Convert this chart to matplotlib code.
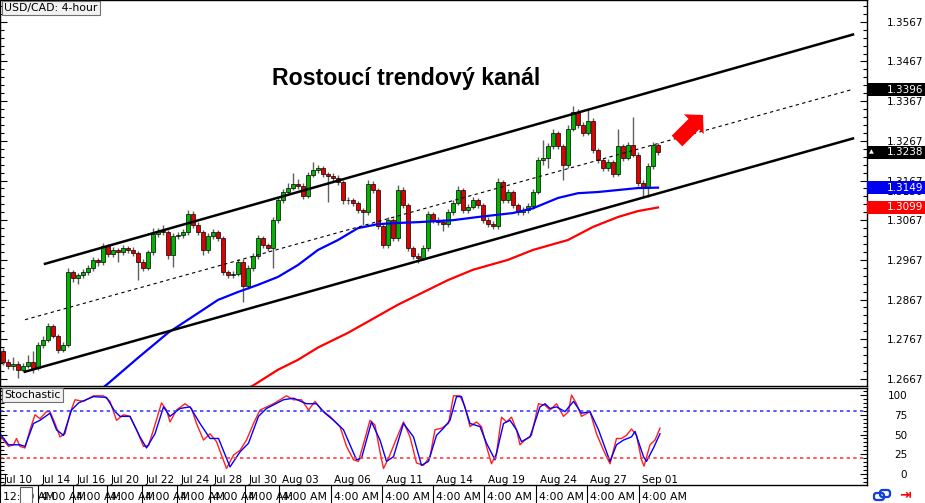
import matplotlib
matplotlib.use("Agg")
import matplotlib.pyplot as plt
import numpy as np
from matplotlib.patches import Rectangle, FancyArrow, FancyBboxPatch
from matplotlib.lines import Line2D
from matplotlib.transforms import blended_transform_factory
from matplotlib.ticker import FixedLocator, MultipleLocator

plt.rcParams['font.family'] = ['DejaVu Sans']

# --- USD/CAD 4h candles ---
opens = [1.2736, 1.2710, 1.2700, 1.2705, 1.2690, 1.2700, 1.2710, 1.2695, 1.2753, 1.2766,
         1.2801, 1.2776, 1.2741, 1.2753, 1.2937, 1.2921, 1.2929, 1.2937, 1.2947, 1.2967,
         1.2962, 1.3002, 1.2982, 1.2992, 1.2987, 1.2997, 1.2992, 1.2984, 1.2962, 1.2947,
         1.2987, 1.3032, 1.3040, 1.3037, 1.2979, 1.3027, 1.3030, 1.3037, 1.3082, 1.3055,
         1.3037, 1.2992, 1.3027, 1.3037, 1.3022, 1.2937, 1.2929, 1.2932, 1.2962, 1.2901,
         1.2947, 1.2977, 1.3022, 1.3004, 1.2997, 1.3067, 1.3117, 1.3138, 1.3148, 1.3158,
         1.3153, 1.3128, 1.3180, 1.3193, 1.3198, 1.3183, 1.3178, 1.3173, 1.3163, 1.3117,
         1.3117, 1.3110, 1.3092, 1.3087, 1.3158, 1.3143, 1.3052, 1.3004, 1.3067, 1.3022,
         1.3143, 1.3105, 1.2997, 1.2977, 1.2972, 1.2997, 1.3082, 1.3067, 1.3062, 1.3057,
         1.3087, 1.3110, 1.3143, 1.3092, 1.3100, 1.3117, 1.3105, 1.3067, 1.3057, 1.3052,
         1.3163, 1.3117, 1.3138, 1.3105, 1.3087, 1.3092, 1.3102, 1.3138, 1.3218, 1.3223,
         1.3253, 1.3286, 1.3253, 1.3205, 1.3298, 1.3339, 1.3308, 1.3288, 1.3318, 1.3243,
         1.3218, 1.3198, 1.3213, 1.3183, 1.3253, 1.3223, 1.3256, 1.3231, 1.3160, 1.3148,
         1.3203, 1.3256]
closes = [1.2710, 1.2700, 1.2705, 1.2690, 1.2700, 1.2710, 1.2695, 1.2753, 1.2766, 1.2801,
          1.2776, 1.2741, 1.2753, 1.2937, 1.2921, 1.2929, 1.2937, 1.2947, 1.2967, 1.2962,
          1.3002, 1.2982, 1.2992, 1.2987, 1.2997, 1.2992, 1.2984, 1.2962, 1.2947, 1.2987,
          1.3032, 1.3040, 1.3037, 1.2979, 1.3027, 1.3030, 1.3037, 1.3082, 1.3055, 1.3037,
          1.2992, 1.3027, 1.3037, 1.3022, 1.2937, 1.2929, 1.2932, 1.2962, 1.2901, 1.2947,
          1.2977, 1.3022, 1.3004, 1.2997, 1.3067, 1.3117, 1.3138, 1.3148, 1.3158, 1.3153,
          1.3128, 1.3180, 1.3193, 1.3198, 1.3183, 1.3178, 1.3173, 1.3163, 1.3117, 1.3117,
          1.3110, 1.3092, 1.3087, 1.3158, 1.3143, 1.3052, 1.3004, 1.3067, 1.3022, 1.3143,
          1.3105, 1.2997, 1.2977, 1.2972, 1.2997, 1.3082, 1.3067, 1.3062, 1.3057, 1.3087,
          1.3110, 1.3143, 1.3092, 1.3100, 1.3117, 1.3105, 1.3067, 1.3057, 1.3052, 1.3163,
          1.3117, 1.3138, 1.3105, 1.3087, 1.3092, 1.3102, 1.3138, 1.3218, 1.3223, 1.3253,
          1.3286, 1.3253, 1.3205, 1.3298, 1.3339, 1.3308, 1.3288, 1.3318, 1.3243, 1.3218,
          1.3198, 1.3213, 1.3183, 1.3253, 1.3223, 1.3256, 1.3231, 1.3160, 1.3148, 1.3203,
          1.3256, 1.3238]
highs = [1.2745, 1.2718, 1.2722, 1.2712, 1.2708, 1.2728, 1.2736, 1.2760, 1.2775, 1.2808,
         1.2806, 1.2780, 1.2760, 1.2947, 1.2942, 1.2935, 1.2945, 1.2955, 1.2975, 1.2972,
         1.3010, 1.3008, 1.3000, 1.2998, 1.3004, 1.3003, 1.3000, 1.2990, 1.2968, 1.2993,
         1.3047, 1.3048, 1.3055, 1.3043, 1.3034, 1.3038, 1.3045, 1.3092, 1.3090, 1.3062,
         1.3042, 1.3034, 1.3045, 1.3042, 1.3028, 1.2942, 1.2938, 1.2970, 1.2968, 1.2954,
         1.2984, 1.3030, 1.3028, 1.3010, 1.3075, 1.3125, 1.3145, 1.3160, 1.3185, 1.3170,
         1.3160, 1.3188, 1.3213, 1.3205, 1.3203, 1.3188, 1.3185, 1.3180, 1.3168, 1.3125,
         1.3122, 1.3115, 1.3098, 1.3168, 1.3165, 1.3148, 1.3058, 1.3075, 1.3072, 1.3155,
         1.3150, 1.3110, 1.3003, 1.2985, 1.3004, 1.3090, 1.3088, 1.3074, 1.3070, 1.3094,
         1.3118, 1.3153, 1.3148, 1.3108, 1.3125, 1.3124, 1.3110, 1.3074, 1.3064, 1.3173,
         1.3168, 1.3146, 1.3143, 1.3110, 1.3100, 1.3110, 1.3146, 1.3226, 1.3270, 1.3262,
         1.3298, 1.3292, 1.3258, 1.3306, 1.3354, 1.3346, 1.3314, 1.3344, 1.3324, 1.3250,
         1.3224, 1.3220, 1.3218, 1.3298, 1.3260, 1.3264, 1.3326, 1.3238, 1.3168, 1.3210,
         1.3263, 1.3262]
lows = [1.2703, 1.2692, 1.2690, 1.2670, 1.2684, 1.2694, 1.2682, 1.2690, 1.2745, 1.2760,
        1.2770, 1.2733, 1.2735, 1.2748, 1.2912, 1.2905, 1.2922, 1.2930, 1.2940, 1.2952,
        1.2955, 1.2975, 1.2975, 1.2962, 1.2980, 1.2985, 1.2976, 1.2917, 1.2940, 1.2941,
        1.2980, 1.3025, 1.3030, 1.2970, 1.2950, 1.3020, 1.3022, 1.3030, 1.3048, 1.3030,
        1.2980, 1.2985, 1.3020, 1.3015, 1.2930, 1.2920, 1.2922, 1.2926, 1.2862, 1.2894,
        1.2940, 1.2970, 1.2998, 1.2990, 1.2947, 1.3060, 1.3110, 1.3130, 1.3142, 1.3145,
        1.3120, 1.3122, 1.3175, 1.3186, 1.3176, 1.3112, 1.3166, 1.3155, 1.3108, 1.3108,
        1.3102, 1.3085, 1.3055, 1.3080, 1.3136, 1.3045, 1.2996, 1.2998, 1.3014, 1.3015,
        1.3098, 1.2990, 1.2970, 1.2960, 1.2966, 1.2990, 1.3060, 1.3055, 1.3040, 1.3050,
        1.3080, 1.3104, 1.3085, 1.3085, 1.3094, 1.3098, 1.3060, 1.3050, 1.3045, 1.3046,
        1.3110, 1.3110, 1.3098, 1.3080, 1.3080, 1.3086, 1.3096, 1.3132, 1.3205, 1.3198,
        1.3246, 1.3246, 1.3168, 1.3198, 1.3292, 1.3300, 1.3280, 1.3282, 1.3236, 1.3210,
        1.3190, 1.3192, 1.3176, 1.3178, 1.3216, 1.3218, 1.3225, 1.3152, 1.3122, 1.3125,
        1.3196, 1.3232]

# moving averages (candle index, price)
ma_blue_pos = [19, 21, 27, 33, 40, 43, 47, 51, 55, 59, 63, 67, 71, 75, 79, 83, 90, 95, 102,
               106, 111, 115, 119, 123, 127, 131]
ma_blue = [1.2635, 1.2655, 1.2720, 1.2783, 1.2841, 1.2866, 1.2886, 1.2904, 1.2924, 1.2954,
           1.2992, 1.3017, 1.3047, 1.3057, 1.3060, 1.3062, 1.3067, 1.3075, 1.3085, 1.3097,
           1.3123, 1.3135, 1.3138, 1.3143, 1.3148, 1.3149]
ma_red_pos = [48, 50, 55, 59, 63, 69, 79, 89, 94, 101, 106, 113, 118, 123, 127, 131]
ma_red = [1.2635, 1.2650, 1.2690, 1.2715, 1.2746, 1.2783, 1.2854, 1.2916, 1.2942, 1.2967,
          1.2992, 1.3017, 1.3050, 1.3075, 1.3090, 1.3099]

# trend channel
upper_x, upper_y = [8.4, 170], [1.2957, 1.3535]
lower_x, lower_y = [4.4, 170], [1.2685, 1.3273]
mid_x, mid_y = [4.4, 170], [1.2816, 1.3397]

# stochastic %K (red) and %D (blue)
k_pos = [-0.6, 0.1, 1.1, 2.1, 2.7, 3.4, 4.4, 5.4, 6.4, 7.4, 8.7, 9.4, 10.4, 11.4, 12.4, 13.4,
         14.4, 16.1, 18.1, 20.1, 21.4, 22.7, 24.1, 25.4, 26.7, 28.1, 29.1, 30.1, 31.7, 32.7,
         33.4, 34.7, 36.4, 37.7, 38.7, 40.1, 41.4, 42.7, 44.7, 46.1, 47.4, 48.7, 50.1, 51.4,
         54.1, 56.7, 58.1, 59.7, 61.1, 62.4, 63.7, 65.4, 67.4, 68.7, 70.1, 71.1, 72.4, 73.4,
         74.4, 75.4, 76.1, 77.1, 78.7, 80.1, 81.4, 82.7, 84.1, 85.4, 86.4, 87.7, 89.1, 90.1,
         91.4, 92.4, 93.4, 94.7, 95.7, 96.7, 97.7, 98.7, 99.7, 100.7, 101.7, 102.7, 103.4,
         104.4, 105.7, 107.1, 108.4, 109.4, 110.7, 112.1, 113.1, 113.7, 114.7, 115.7, 117.4,
         118.7, 120.1, 121.4, 122.7, 123.7, 124.7, 125.7, 126.7, 127.7, 128.2, 129.4, 130.4,
         131.4]
k_vals = [49, 43, 35, 37, 45, 35, 33, 56, 75, 70, 79, 79, 64, 47, 51, 77,
          94, 92, 99, 99, 92, 68, 75, 73, 56, 35, 36, 56, 90, 81,
          66, 81, 89, 83, 64, 43, 51, 41, 7, 24, 30, 43, 64, 81,
          89, 99, 94, 94, 81, 92, 81, 73, 60, 35, 18, 16, 45, 68,
          62, 28, 7, 20, 45, 66, 47, 14, 11, 22, 56, 58, 64, 99,
          99, 85, 60, 66, 60, 35, 13, 26, 72, 66, 72, 56, 37,
          43, 49, 89, 87, 81, 89, 73, 79, 100, 89, 73, 79,
          51, 30, 13, 45, 45, 49, 57, 49, 18, 10, 37, 43,
          58]
d_pos = [-0.6, 1.1, 3.4, 4.4, 6.1, 7.4, 9.4, 10.7, 12.1, 13.7, 15.1, 18.1, 20.7, 22.4, 23.4,
         25.4, 27.4, 28.7, 30.4, 32.1, 33.4, 35.4, 37.4, 39.4, 41.4, 43.1, 45.4, 47.4, 49.1,
         51.1, 52.7, 56.1, 58.1, 60.7, 62.7, 64.4, 66.1, 68.1, 70.7, 71.7, 73.7, 75.4, 76.7,
         78.1, 80.1, 82.1, 83.7, 85.1, 86.7, 88.1, 89.4, 90.7, 91.7, 93.4, 95.4, 96.7, 98.4,
         100.1, 101.4, 102.7, 103.7, 105.4, 107.4, 108.4, 109.4, 110.7, 112.4, 114.1, 115.7,
         117.4, 119.1, 121.4, 122.7, 124.1, 125.7, 126.4, 128.1, 128.7, 130.1, 131.4]
d_vals = [51, 37, 37, 35, 64, 68, 77, 56, 49, 81, 90, 98, 97, 79, 73,
          73, 47, 33, 51, 85, 73, 83, 85, 64, 45, 45, 9, 28, 39,
          73, 83, 94, 96, 89, 89, 77, 68, 56, 18, 20, 66, 43, 16,
          22, 64, 47, 11, 16, 49, 58, 68, 98, 98, 64, 60, 39, 18,
          64, 68, 56, 41, 47, 85, 89, 83, 85, 79, 92, 77,
          79, 56, 16, 37, 43, 47, 54, 22, 16, 33, 51]

# time axis
session_pos = [-0.6, 7.0, 14.0, 20.8, 27.8, 34.8, 41.4, 48.4, 55.2, 65.6, 75.8, 86.0,
               96.2, 106.6, 116.8, 127.2]
date_labels = ['Jul 10', 'Jul 14', 'Jul 16', 'Jul 20', 'Jul 22', 'Jul 24', 'Jul 28', 'Jul 30',
               'Aug 03', 'Aug 06', 'Aug 11', 'Aug 14', 'Aug 19', 'Aug 24', 'Aug 27', 'Sep 01']
time_labels = ['12:00 AM'] + ['4:00 AM'] * 15

price_ticks = [1.2667, 1.2767, 1.2867, 1.2967, 1.3067, 1.3167, 1.3267, 1.3367, 1.3467, 1.3567]

W, H = 925, 503
fig = plt.figure(figsize=(W / 100, H / 100), dpi=100)


def box(x0, y0, x1, y1):
    return [x0 / W, 1 - y1 / H, (x1 - x0) / W, (y1 - y0) / H]


ax = fig.add_axes(box(0, 0, 867, 386))
ax2 = fig.add_axes(box(0, 388, 867, 485))

o = np.array(opens)
c = np.array(closes)
idx = np.arange(len(c))
bull = c >= o
ax.vlines(idx, lows, highs, color='#606060', lw=1.0, zorder=2)
ax.bar(idx, np.maximum(np.abs(c - o), 0.00015), bottom=np.minimum(o, c), width=0.62,
       color=np.where(bull, '#00b400', '#e00000'), edgecolor='black', linewidth=0.5, zorder=3)

ax.plot(ma_blue_pos, ma_blue, color='#0000ff', lw=1.6, zorder=4)
ax.plot(ma_red_pos, ma_red, color='#ff0000', lw=1.6, zorder=4)
ax.plot(upper_x, upper_y, color='black', lw=1.8, zorder=5)
ax.plot(lower_x, lower_y, color='black', lw=1.8, zorder=5)
ax.plot(mid_x, mid_y, color='black', lw=0.8, dashes=(3, 3), zorder=5)

ax.set_xlim(-0.6, 172.8)
ax.set_ylim(1.2649, 1.3622)
ax.set_xticks([])
ax.yaxis.set_major_locator(FixedLocator(price_ticks))
ax.yaxis.set_minor_locator(FixedLocator(np.arange(1.2647, 1.3622, 0.002)))
ax.yaxis.set_major_formatter(plt.FormatStrFormatter('%.4f'))
ax.yaxis.set_ticks_position('both')
ax.tick_params(axis='y', which='both', direction='in', labelleft=False, labelright=True,
               labelsize=7.5, pad=14)
ax.tick_params(axis='y', which='major', length=5, width=0.8)
ax.tick_params(axis='y', which='minor', length=3, width=0.8)

lbl_style = dict(boxstyle='square,pad=0.2', fc='#f2f2f2', ec='#707070', lw=0.8)
ax.text(4 / 867, 1 - 3 / 386, 'USD/CAD: 4-hour', transform=ax.transAxes, fontsize=7.8,
        va='top', ha='left', bbox=lbl_style, zorder=10)

# stochastic panel
ax2.plot(k_pos, k_vals, color='#ff2020', lw=1.0)
ax2.plot(d_pos, d_vals, color='#0000ff', lw=1.0)
ax2.axhline(80, color='#4040ff', lw=1.2, dashes=(2, 2))
ax2.axhline(20, color='#ff4040', lw=1.2, dashes=(2, 2))
ax2.set_xlim(-0.6, 172.8)
ax2.set_ylim(-13.9, 108.9)
ax2.set_xticks([])
ax2.set_yticks([0, 25, 50, 75, 100])
ax2.yaxis.set_minor_locator(MultipleLocator(5))
ax2.yaxis.set_ticks_position('both')
ax2.tick_params(axis='y', which='both', direction='in', labelleft=False, labelright=True,
                labelsize=7.5, pad=29)
ax2.tick_params(axis='y', which='major', length=5, width=0.8)
ax2.tick_params(axis='y', which='minor', length=3, width=0.8)
for t in ax2.yaxis.get_major_ticks():
    t.label2.set_horizontalalignment('right')
ax2.text(4 / 867, 1 - 2 / 97, 'Stochastic', transform=ax2.transAxes, fontsize=7.8,
         va='top', ha='left', bbox=lbl_style, zorder=10)

for p, d in zip(session_pos, date_labels):
    ax2.text(p + 0.7, -7.8, d, fontsize=7.5, ha='left', va='center')

for spine in list(ax.spines.values()) + list(ax2.spines.values()):
    spine.set_linewidth(1.0)

# bottom time row
tx = blended_transform_factory(ax2.transData, fig.transFigure)
for p, t in zip(session_pos, time_labels):
    fig.add_artist(Line2D([p, p], [0, 17 / H], transform=tx, color='black', lw=0.8))
    fig.text(p + 0.6, 6.5 / H, t, transform=tx, fontsize=7.8, ha='left', va='center')
fig.add_artist(Rectangle((20 / W, 0), 12 / W, 16 / H, transform=fig.transFigure,
                         fc='white', ec='#606060', lw=0.8, zorder=4))

# price tags on the right axis
ty = blended_transform_factory(fig.transFigure, ax.transData)
fig.text(887 / W, 1.3137, '1.3130', transform=ty, fontsize=7.5, va='center', zorder=0.5)
half = 6.3 / 3970
for val, col in [(1.3396, 'black'), (1.3238, 'black'), (1.3149, '#0000f0'), (1.3099, '#ff0000')]:
    fig.add_artist(Rectangle((867 / W, val - half), 58 / W, 2 * half, transform=ty,
                             fc=col, ec='none', zorder=5))
    fig.text(887 / W, val, '%.4f' % val, transform=ty, color='white', fontsize=7.5,
             va='center', ha='left', zorder=6)
fig.text(869 / W, 1.3240, '\u25b2', transform=ty, color='white', fontsize=4.5,
         va='center', ha='left', zorder=6)

# headline and arrow
fig.text(406.5 / W, 1 - 85 / H, 'Rostoucí trendový kanál', ha='center', va='baseline',
         fontsize=16.7, fontweight='bold', family='Liberation Sans')
fig.add_artist(FancyArrow(6.77, 3.62, 0.26, 0.26, width=0.15, head_width=0.28,
                          head_length=0.13, length_includes_head=True, color='#ff0000',
                          lw=0, transform=fig.dpi_scale_trans, zorder=6))

# little status icons
for x0, y0 in [(875, 4), (881, 7)]:
    fig.add_artist(FancyBboxPatch((x0 / 100, y0 / 100), 0.08, 0.05,
                                  boxstyle='round,pad=0.01,rounding_size=0.025',
                                  transform=fig.dpi_scale_trans, fc='none', ec='#1040e0',
                                  lw=1.6))
fig.text(899 / W, 8 / H, '\u21e5', color='red', fontsize=10, fontweight='bold',
         ha='left', va='center')

fig.savefig('out.png', dpi=100)
